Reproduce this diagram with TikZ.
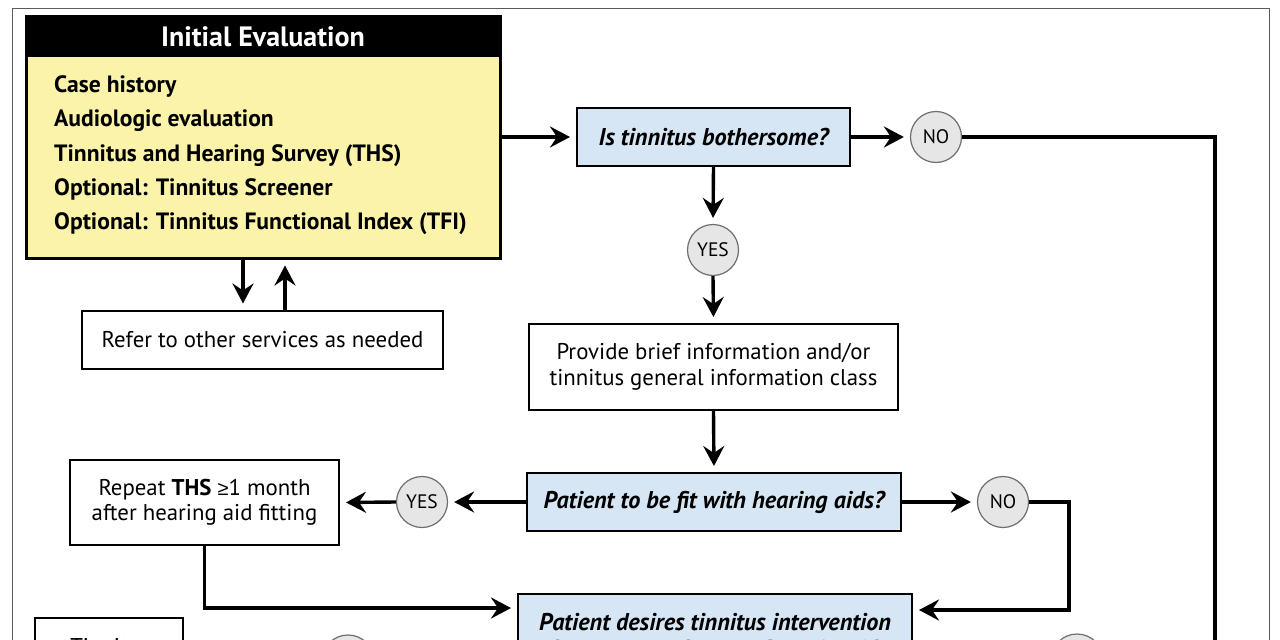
\documentclass[tikz,border=0pt]{standalone}
\usepackage{fontspec}
\setmainfont{PT Sans}
\newfontfamily\symf{Liberation Sans}
\usetikzlibrary{arrows.meta}
\definecolor{evyellow}{RGB}{251,243,170}
\definecolor{qblue}{RGB}{214,230,245}
\definecolor{circfill}{RGB}{230,230,230}
\definecolor{circline}{RGB}{110,110,110}
\definecolor{framegray}{RGB}{90,90,90}
\begin{document}
\begin{tikzpicture}[x=1pt,y=-1pt,
  every node/.style={inner sep=0pt, align=center},
  plainbox/.style={draw, line width=2pt, fill=white, font=\fontsize{22.8}{26}\selectfont},
  qbox/.style={draw, line width=2pt, fill=qblue, font=\fontsize{24.2}{28}\selectfont\bfseries\itshape},
  ansnode/.style={circle, draw=circline, fill=circfill, line width=1.2pt, minimum size=51pt, font=\fontsize{19.5}{19.5}\selectfont},
  ieline/.style={anchor=base west, font=\fontsize{23.6}{26}\selectfont\bfseries},
  conn/.style={line width=3.4pt, shorten >=6pt, -{Stealth[length=20pt,width=21pt,inset=7pt]}},
  plainline/.style={line width=3.4pt}
]
\useasboundingbox (0,0) rectangle (1280,640);
\clip (0,0) rectangle (1280,640);
\fill[white] (0,0) rectangle (1280,640);
% outer frame
\draw[framegray, line width=1.6pt] (12.5,8.5) rectangle (1269.5,760);

% Initial evaluation
\node[draw, line width=3pt, fill=evyellow, minimum width=474pt, minimum height=242pt] (ie) at (263,137) {};
\node[fill=black, minimum width=474pt, minimum height=41pt, text=white, font=\fontsize{28}{28}\selectfont\bfseries] (ieh) at (263,36.5) {Initial Evaluation};
\node[ieline] (ie1) at (54,92) {Case history};
\node[ieline] (ie2) at (54,126) {Audiologic evaluation};
\node[ieline] (ie3) at (54,161) {Tinnitus and Hearing Survey (THS)};
\node[ieline] (ie4) at (54,195) {Optional: Tinnitus Screener};
\node[ieline] (ie5) at (54,229) {Optional: Tinnitus Functional Index (TFI)};

% refer box
\node[plainbox, minimum width=361pt, minimum height=58pt] (ref) at (262.5,339.5) {Refer to other services as needed};
\coordinate (ad) at (243,0);
\coordinate (au) at (285,0);
\draw[conn] (ie.south -| ad) -- (ref.north -| ad);
\draw[conn] (ref.north -| au) -- (ie.south -| au);

% question 1
\node[qbox, minimum width=273pt, minimum height=58pt] (q1) at (713.5,137) {Is tinnitus bothersome?};
\node[ansnode] (no1) at (936,137) {NO};
\node[ansnode] (yes1) at (713,250) {YES};
\coordinate (nrt) at (1215,137);
\coordinate (nrb) at (1215,760);
\draw[conn] (ie.east |- q1.west) -- (q1.west);
\draw[conn] (q1.east) -- (no1.west);
\draw[plainline] (no1.east) -- (nrt) -- (nrb);
\draw[conn] (q1.south) -- (yes1.north);

% provide info
\node[plainbox, minimum width=369pt, minimum height=86pt, font=\fontsize{22.8}{26}\selectfont] (prov) at (713.5,367) {Provide brief information and/or\\tinnitus general information class};
\draw[conn] (yes1.south) -- (prov.north);

% question 2
\node[qbox, minimum width=374pt, minimum height=58pt] (q2) at (714,502) {Patient to be fit with hearing aids?};
\draw[conn] (prov.south) -- (q2.north);
\node[ansnode] (yes2) at (422,502) {YES};
\node[ansnode] (no2) at (1003,502) {NO};
\node[plainbox, minimum width=269pt, minimum height=85pt, font=\fontsize{22.8}{25.5}\selectfont] (rep) at (204.5,502.5) {Repeat \textbf{THS} {\symf\fontsize{20}{20}\selectfont ≥}1 month\\after hearing aid fitting};
\draw[conn] (q2.west) -- (yes2.east);
\draw[conn] (yes2.west) -- (rep.east);
\draw[conn] (q2.east) -- (no2.west);

% question 3 (cut off by the picture's lower edge)
\node[draw, line width=2pt, fill=qblue, minimum width=394pt, minimum height=92pt] (q3) at (715,640) {};
\node[anchor=base, font=\fontsize{24.2}{28}\selectfont\bfseries\itshape] (q3a) at (715,630) {Patient desires tinnitus intervention};
\node[anchor=base, font=\fontsize{24.2}{28}\selectfont\bfseries\itshape] (q3b) at (715,657) {for problems from THS section A?};
\coordinate (cr) at (1069,610);
\coordinate (cl) at (0,608);
\draw[conn] (no2.east) -- (no2.east -| cr) -- (cr) -- (cr -| q3.east);
\draw[conn] (rep.south) |- (cl -| q3.west);

% bottom items (cut off)
\node[draw, line width=2pt, fill=white, minimum width=148pt, minimum height=100pt] (tbox) at (109,668) {};
\node[anchor=base, font=\fontsize{22.8}{26}\selectfont] (tboxt) at (110,654) {Tinnitus};
\node[ansnode, minimum size=52pt] (c5) at (348,661) {};
\node[ansnode, minimum size=52pt] (c6) at (1077,660) {};
\end{tikzpicture}
\end{document}
